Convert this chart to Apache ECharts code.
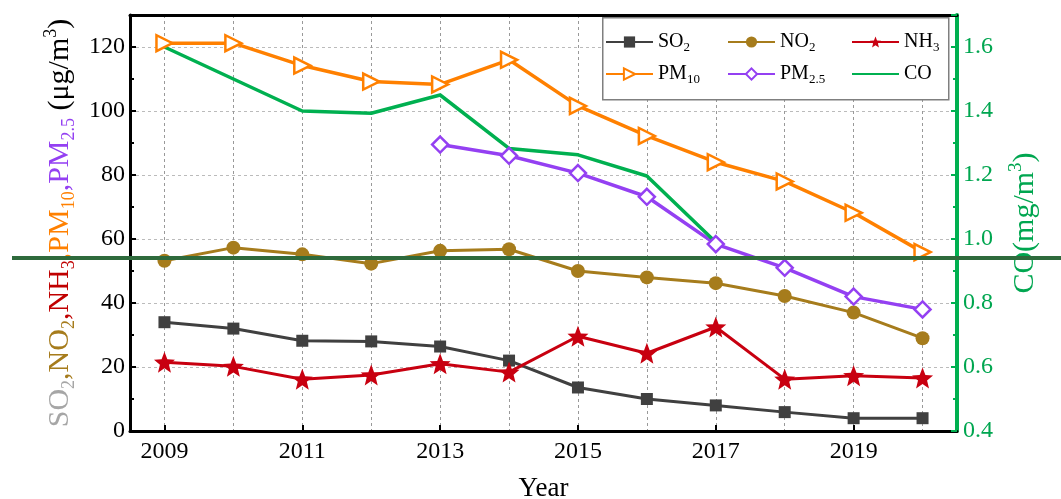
<!DOCTYPE html>
<html><head><meta charset="utf-8">
<script src="https://cdn.jsdelivr.net/npm/echarts@6/dist/echarts.min.js"></script>
<style>html,body{margin:0;padding:0;background:#fff}#c{width:1061px;height:499px}</style>
</head><body><div id="c"></div>
<script>
// ---- data ----
const years = ['2009','2010','2011','2012','2013','2014','2015','2016','2017','2018','2019','2020'];
const so2  = [34, 32, 28.2, 28, 26.4, 22, 13.6, 10, 8, 5.9, 4, 4];
const no2  = [53.2, 57.3, 55.2, 52.3, 56.3, 56.8, 50, 48, 46.2, 42.2, 37, 29];
const nh3  = [21.5, 20.2, 16.2, 17.5, 21, 18.4, 29.6, 24.3, 32.5, 16.2, 17.3, 16.6];
const pm10 = [121.2, 121.2, 114.2, 109.2, 108.3, 116, 101.6, 92.2, 84, 78, 68.2, 55.9];
const pm25 = [null, null, null, null, 89.5, 86, 80.6, 73.2, 58.4, 51, 42, 38];
const co   = [1.60, 1.50, 1.40, 1.393, 1.45, 1.283, 1.263, 1.197, 0.99, null, null, null];
const seriesNames = ['SO2', 'NO2', 'NH3', 'PM10', 'PM2.5', 'CO'];
const leftRange = [0, 130];
const leftStep = 20;
const rightRange = [0.4, 1.7];
const rightStep = 0.2;

const FONT = "'Liberation Serif','Times New Roman',serif";
const C = {so2:'#404040', no2:'#a67c1c', nh3:'#c80010', pm10:'#ff8000', pm25:'#9440f2', co:'#00b050'};

const legendRich = {
  m: {fontFamily: FONT, fontSize: 20, lineHeight: 24, color: '#000'},
  s: {fontFamily: FONT, fontSize: 13, lineHeight: 12, verticalAlign: 'bottom', color: '#000'}
};
const legendLabel = {
  'SO2': '{m|SO}{s|2}', 'NO2': '{m|NO}{s|2}', 'NH3': '{m|NH}{s|3}',
  'PM10': '{m|PM}{s|10}', 'PM2.5': '{m|PM}{s|2.5}', 'CO': '{m|CO}'
};
function mkLegend(data, left) {
  return {
    data: data, left: left, top: 32, orient: 'vertical', itemGap: 10,
    itemWidth: 47, itemHeight: 14, padding: 0,
    formatter: n => legendLabel[n],
    textStyle: {fontFamily: FONT, fontSize: 20, rich: legendRich}
  };
}

const L = 30, LS = 18;
const leftNameRich = {};
[['g','#a6a6a6'],['n',C.no2],['r','#c00000'],['o',C.pm10],['p',C.pm25],['k','#000']].forEach(([k,col])=>{
  leftNameRich[k] = {fontFamily: FONT, fontSize: L, lineHeight: 36, color: col};
  leftNameRich[k+'s'] = {fontFamily: FONT, fontSize: LS, lineHeight: 16, verticalAlign: 'bottom', color: col};
  leftNameRich[k+'u'] = {fontFamily: FONT, fontSize: LS, lineHeight: 16, verticalAlign: 'top', color: col};
});
const rightNameRich = {
  c: {fontFamily: FONT, fontSize: 30, lineHeight: 36, color: '#00a650'},
  cu: {fontFamily: FONT, fontSize: 19, lineHeight: 16, verticalAlign: 'top', color: '#00a650'}
};

const chart = echarts.init(document.getElementById('c'));
chart.setOption({
  animation: false,
  backgroundColor: '#fff',
  grid: {left: 130, right: 104, top: 15, bottom: 68, containLabel: false, outerBoundsMode: 'none'},
  legend: [mkLegend(['SO2','PM10'], 605), mkLegend(['NO2','PM2.5'], 727),
           mkLegend(['NH3', {name: 'CO', itemStyle: {opacity: 0}}], 851)],
  graphic: [
    {type: 'rect', left: 602, top: 17, z: 3, shape: {width: 346, height: 82},
     style: {fill: '#fff', stroke: '#7f7f7f', lineWidth: 1.5}},
    {type: 'line', z: 100, shape: {x1: 12, y1: 258, x2: 1061, y2: 258},
     style: {stroke: '#2e6a3c', lineWidth: 4}}
  ],
  xAxis: [{
    type: 'category', data: years, boundaryGap: true, position: 'bottom',
    name: 'Year', nameLocation: 'middle', nameGap: 44,
    nameTextStyle: {fontFamily: FONT, fontSize: 27, color: '#000'},
    axisLine: {lineStyle: {color: '#000', width: 3}},
    axisTick: {show: true, inside: true, interval: 1, alignWithLabel: true, length: 6, lineStyle: {color: '#000', width: 2}},
    axisLabel: {interval: 1, fontFamily: FONT, fontSize: 24, color: '#000', margin: 9},
    splitLine: {show: true, interval: 0, alignWithLabel: true, lineStyle: {color: '#999', type: [3, 3], width: 1}}
  }, {
    type: 'category', data: years, position: 'top',
    axisLine: {lineStyle: {color: '#000', width: 3}},
    axisTick: {show: false}, axisLabel: {show: false}, splitLine: {show: false}
  }],
  yAxis: [{
    type: 'value', min: leftRange[0], max: leftRange[1], interval: leftStep, position: 'left',
    name: '{g|SO}{gs|2}{n|,NO}{ns|2}{r|,NH}{rs|3}{o|,PM}{os|10}{p|,PM}{ps|2.5}{k| (μg/m}{ku|3}{k|)}',
    nameLocation: 'middle', nameRotate: 90, nameGap: 50,
    nameTextStyle: {fontFamily: FONT, fontSize: L, rich: leftNameRich},
    axisLine: {show: true, lineStyle: {color: '#000', width: 3}},
    axisTick: {show: true, inside: true, length: 6, lineStyle: {color: '#000', width: 2}},
    minorTick: {show: true, splitNumber: 2, length: 4, lineStyle: {color: '#000', width: 2}},
    axisLabel: {fontFamily: FONT, fontSize: 24, color: '#000', margin: 5, showMaxLabel: false},
    splitLine: {show: true, lineStyle: {color: '#bbb', type: [3, 3], width: 1}}
  }, {
    type: 'value', min: rightRange[0], max: rightRange[1], interval: rightStep, position: 'right',
    name: '{c|CO(mg/m}{cu|3}{c|)}',
    nameLocation: 'middle', nameRotate: 90, nameGap: 50,
    nameTextStyle: {fontFamily: FONT, fontSize: 30, rich: rightNameRich},
    axisLine: {show: true, lineStyle: {color: '#00b050', width: 4}},
    axisTick: {show: true, inside: true, length: 6, lineStyle: {color: '#00b050', width: 2}},
    minorTick: {show: true, splitNumber: 2, length: 4, lineStyle: {color: '#00b050', width: 2}},
    axisLabel: {fontFamily: FONT, fontSize: 24, color: '#00a650', margin: 6, showMaxLabel: false,
                formatter: v => v.toFixed(1)},
    splitLine: {show: false}
  }],
  series: [
    {name: seriesNames[0], type: 'line', data: so2, yAxisIndex: 0, symbol: 'rect', symbolSize: 12,
     itemStyle: {color: C.so2}, lineStyle: {color: C.so2, width: 3}},
    {name: seriesNames[1], type: 'line', data: no2, yAxisIndex: 0, symbol: 'circle', symbolSize: 14,
     itemStyle: {color: C.no2}, lineStyle: {color: C.no2, width: 3}},
    {name: seriesNames[2], type: 'line', data: nh3, yAxisIndex: 0, symbol: 'path://M0,-10 L2.6,-3.4 9.51,-3.09 4.1,1.3 5.88,8.09 0,4.3 -5.88,8.09 -4.1,1.3 -9.51,-3.09 -2.6,-3.4 Z', symbolSize: 21,
     itemStyle: {color: C.nh3}, lineStyle: {color: C.nh3, width: 3}},
    {name: seriesNames[3], type: 'line', data: pm10, yAxisIndex: 0, symbol: 'triangle', symbolSize: 16, symbolRotate: -90,
     itemStyle: {color: '#fff', borderColor: C.pm10, borderWidth: 2.5}, lineStyle: {color: C.pm10, width: 3.5}},
    {name: seriesNames[4], type: 'line', data: pm25, yAxisIndex: 0, symbol: 'diamond', symbolSize: 16,
     itemStyle: {color: '#fff', borderColor: C.pm25, borderWidth: 2.5}, lineStyle: {color: C.pm25, width: 3.5}},
    {name: seriesNames[5], type: 'line', data: co, yAxisIndex: 1, symbol: 'none',
     itemStyle: {color: C.co}, lineStyle: {color: C.co, width: 3.5}}
  ]
});
</script></body></html>
